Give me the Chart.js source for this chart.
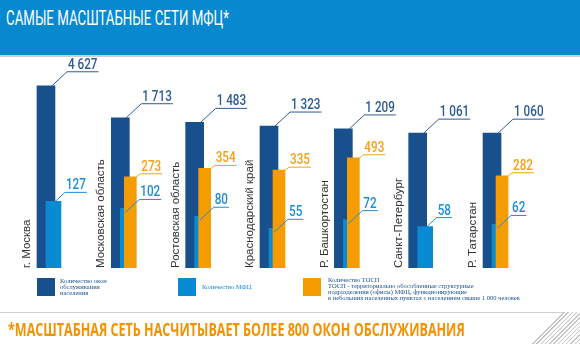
<!DOCTYPE html>
<html lang="ru">
<head>
<meta charset="utf-8">
<script src="https://cdn.jsdelivr.net/npm/chart.js@4.4.1/dist/chart.umd.min.js"></script>
<style>
  html, body { margin: 0; padding: 0; background: #fff; }
  body { width: 580px; height: 344px; position: relative; overflow: hidden; font-family: "Liberation Sans", Arial, sans-serif; }
  .band { position: absolute; left: 0; top: 0; width: 580px; height: 55px; background: #0788cf; border-bottom: 2px solid #cdcdcd; }
  .title { position: absolute; left: 6px; top: 8px; color: #fff; font: 400 20px/1 Roboto, sans-serif; white-space: nowrap; transform-origin: 0 0; }
  #chartBox { position: absolute; left: 0; top: 0; width: 580px; height: 344px; }
  .sw { position: absolute; width: 18px; height: 18px; top: 278px; }
  .lg { position: absolute; font: 6.5px/6px "Liberation Serif", serif; white-space: nowrap; }
  .rule { position: absolute; left: 0; top: 312px; width: 563px; height: 1px; background: #cfcfcf; }
  .hatch { position: absolute; left: 500px; top: 312px; width: 80px; height: 32px;
           background: repeating-linear-gradient(135deg, #c4c4c4 0 1px, transparent 1px 3px);
           clip-path: polygon(63px 0, 80px 0, 80px 32px, 30px 32px); }
  .note { position: absolute; left: 8px; top: 320px; color: #f39200; font: 700 18px/1 "Open Sans", sans-serif; white-space: nowrap; transform-origin: 0 0; }
</style>
</head>
<body>
<div class="band"><div class="title" id="title">САМЫЕ МАСШТАБНЫЕ СЕТИ МФЦ*</div></div>
<div id="chartBox"><canvas id="chart"></canvas></div>

<div class="sw" style="left:37px;background:#17508d"></div>
<div class="lg" style="left:60px;top:278px;color:#17508d">Количество окон<br>обслуживания<br>населения</div>
<div class="sw" style="left:178px;background:#0a8ad2"></div>
<div class="lg" style="left:202px;top:284px;color:#0a8ad2">Количество МФЦ</div>
<div class="sw" style="left:303px;background:#f59c00"></div>
<div class="lg" style="left:328px;top:277px;color:#17508d">Количество ТОСП<br>ТОСП - территориально обособленные структурные<br>подразделения (офисы) МФЦ, функционирующие<br>в небольших населенных пунктах с населением свыше 1 000 человек</div>

<div class="rule"></div>
<div class="hatch"></div>
<div class="note" id="note">*МАСШТАБНАЯ СЕТЬ НАСЧИТЫВАЕТ БОЛЕЕ 800 ОКОН ОБСЛУЖИВАНИЯ</div>

<script>
const categories = ["г. Москва", "Московская область", "Ростовская область", "Краснодарский край", "Р. Башкортостан", "Санкт-Петербург", "Р. Татарстан"];
const windows = [4627, 1713, 1483, 1323, 1209, 1061, 1060];
const mfc = [127, 102, 80, 55, 72, 58, 62];
const tosp = [null, 273, 354, 335, 493, null, 282];

const NAVY = "#17508d";
const BLUE = "#0a8ad2";
const ORANGE = "#f59c00";
const labelColors = ["#2d5b95", "#1b8fd6", "#f5a11a"];
const barShift = [0, 7.5, 10]; // px offset of each series from the navy bar

// squeeze header/footer text to the width it has in the picture
function fitWidth(id, w) {
  const el = document.getElementById(id);
  el.style.transform = "scaleX(" + (w / el.offsetWidth) + ")";
}
fitWidth("title", 223);
fitWidth("note", 457);

const fmt = v => String(v).replace(/\B(?=(\d{3})+(?!\d))/g, " ");

const shiftBars = {
  id: "shiftBars",
  afterDatasetsUpdate(chart) {
    chart.data.datasets.forEach((ds, i) => {
      chart.getDatasetMeta(i).data.forEach(bar => { bar.x += barShift[i]; });
    });
  }
};

const annotate = {
  id: "annotate",
  afterDatasetsDraw(chart) {
    const ctx = chart.ctx;
    const bottom = chart.chartArea.bottom;
    const navy = chart.getDatasetMeta(0).data;

    // category names, vertical, left of each group
    ctx.save();
    ctx.fillStyle = "#333";
    ctx.font = "11.5px 'Liberation Sans', Arial, sans-serif";
    ctx.textAlign = "left";
    ctx.textBaseline = "middle";
    chart.data.labels.forEach((name, j) => {
      const x0 = navy[j].x - 9;
      ctx.save();
      ctx.translate(x0 - 10, bottom);
      ctx.rotate(-Math.PI / 2);
      ctx.fillText(name, 0, 0);
      ctx.restore();
    });
    ctx.restore();

    // value labels with leader lines
    chart.data.datasets.forEach((ds, i) => {
      chart.getDatasetMeta(i).data.forEach((bar, j) => {
        const v = ds.data[j];
        if (v == null) return;
        const x0 = navy[j].x - 9;
        const right = bar.x + bar.width / 2;
        let sx, sy, ex, ey;
        if (i === 0) { sx = right - 3; sy = bar.y; ex = right + 12; ey = bar.y - 14; }
        else if (i === 1) { sx = x0 + 14; sy = bar.y + 4; ex = sx + 14; ey = sy - 13; }
        else { sx = right - 2; sy = bar.y + 2; ex = right + 4; ey = bar.y - 3; }

        const txt = fmt(v);
        ctx.save();
        ctx.font = "500 15px Roboto, sans-serif";
        const sq = 0.78;
        const tw = ctx.measureText(txt).width * sq;
        ctx.strokeStyle = labelColors[i];
        ctx.lineWidth = 1;
        ctx.beginPath();
        ctx.moveTo(sx, sy);
        ctx.lineTo(ex, ey);
        ctx.lineTo(ex + tw + 2, ey);
        ctx.stroke();
        ctx.fillStyle = labelColors[i];
        ctx.textBaseline = "alphabetic";
        ctx.translate(ex + 1, ey - 3);
        ctx.scale(sq, 1);
        ctx.fillText(txt, 0, 0);
        ctx.restore();
      });
    });
  }
};

new Chart(document.getElementById("chart"), {
  type: "bar",
  data: {
    labels: categories,
    datasets: [
      { label: "Количество окон обслуживания населения", data: windows, backgroundColor: NAVY, barThickness: 18, order: 3 },
      { label: "Количество МФЦ", data: mfc, backgroundColor: BLUE, barThickness: 15, order: 2 },
      { label: "Количество ТОСП", data: tosp, backgroundColor: ORANGE, barThickness: 12, order: 1 }
    ]
  },
  options: {
    responsive: true,
    maintainAspectRatio: false,
    animation: false,
    datasets: { bar: { grouped: false } },
    layout: { padding: { left: 8.8, right: 50.8, top: 61, bottom: 76 } },
    plugins: { legend: { display: false }, tooltip: { enabled: false } },
    scales: {
      x: { type: "category", display: false, offset: true },
      y: { type: "logarithmic", display: false, min: 16, max: 10000 }
    }
  },
  plugins: [shiftBars, annotate]
});
</script>
</body>
</html>
